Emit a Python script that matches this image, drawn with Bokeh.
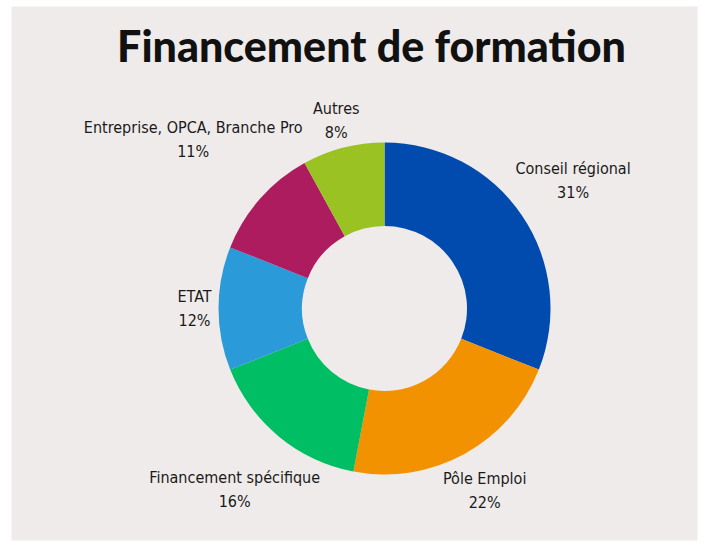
import math
from bokeh.plotting import figure
from bokeh.models import Range1d, ColumnDataSource, BoxAnnotation
from bokeh.core.properties import value
from bokeh.embed import file_html
from bokeh.resources import INLINE

categories = ["Conseil régional", "Pôle Emploi", "Financement spécifique", "ETAT",
              "Entreprise, OPCA, Branche Pro", "Autres"]
shares = [31, 22, 16, 12, 11, 8]
colors = ["#004BAD", "#F39200", "#00BE64", "#2B9AD8", "#AD1C5F", "#99C222"]
label_radius = [228, 208, 235, 190, 255, 194]

W, H = 700, 542
BG = "#EFEBEA"
cx, cy = 384, H - 308
r_in, r_out = 82.5, 166

p = figure(width=W, height=H, output_backend="svg", toolbar_location=None,
           x_range=Range1d(0, W), y_range=Range1d(0, H), min_border=0,
           background_fill_color="white", border_fill_color="white",
           outline_line_color=None)
p.axis.visible = False
p.grid.visible = False
p.add_layout(BoxAnnotation(left=11, right=697, bottom=H - 540, top=H - 6,
                           fill_color=BG, fill_alpha=1, line_color=None, level="underlay"))

total = sum(shares)
starts, ends, lx, ly, labels = [], [], [], [], []
cum = 0
for cat, s, rl in zip(categories, shares, label_radius):
    a0 = math.pi / 2 - 2 * math.pi * cum / total
    a1 = math.pi / 2 - 2 * math.pi * (cum + s) / total
    starts.append(a0)
    ends.append(a1)
    mid = (a0 + a1) / 2
    lx.append(cx + rl * math.cos(mid))
    ly.append(cy + rl * math.sin(mid))
    labels.append(f"{cat}\n{s}%")
    cum += s

src = ColumnDataSource(dict(start=starts, end=ends, color=colors,
                            lx=lx, ly=ly, label=labels))
p.annular_wedge(x=cx, y=cy, inner_radius=r_in, outer_radius=r_out,
                start_angle="start", end_angle="end", direction="clock",
                fill_color="color", line_color=None, source=src)

label_font = value("DejaVu Sans Condensed")
p.text(x="lx", y="ly", text="label", source=src, text_align="center",
       text_baseline="middle", text_font=label_font, text_font_size="16px",
       text_color="#1A1A1A", text_line_height=1.25)

p.text(x=[371], y=[H - 45], text=["Financement de formation"],
       text_align="center", text_baseline="alphabetic",
       text_font=value("Lato Black"), text_font_style="normal", text_font_size="43px",
       text_color="#111111")

open("out.html", "w").write(file_html(p, INLINE))
